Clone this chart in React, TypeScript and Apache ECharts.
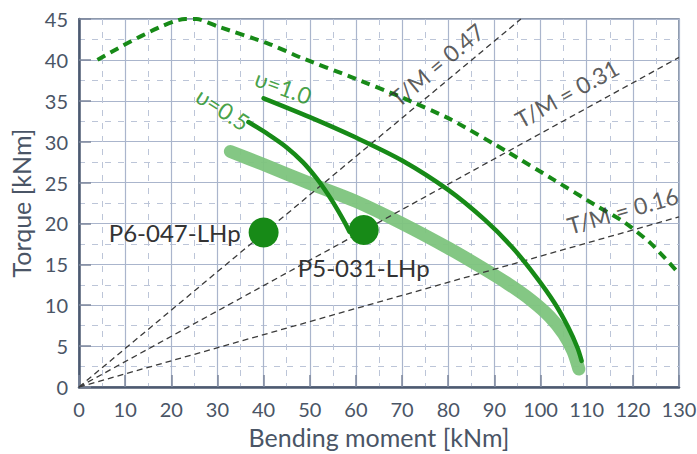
import React, { useEffect, useRef } from "react";
import * as echarts from "echarts";

// Axis ticks
const xTicks = [0, 10, 20, 30, 40, 50, 60, 70, 80, 90, 100, 110, 120, 130];
const yTicks = [0, 5, 10, 15, 20, 25, 30, 35, 40, 45];

// Limit envelope (dotted)
const envelope: number[][] = [
  [4, 40], [23, 45], [25.5, 45], [30, 44.1], [41, 42], [48, 40.3],
  [59, 37.9], [70, 35.4], [80.6, 32.7], [93, 28.7], [103, 25.3],
  [111.7, 22.3], [118.3, 20.1], [124, 17.5], [129.5, 14.2],
];

// υ = 1.0 curve
const upsilon10: number[][] = [
  [40, 35.3], [50, 33], [60, 30.5], [70, 27.7], [80, 24.1], [88, 20.4],
  [94, 17], [99, 13.5], [103, 10.3], [106, 7.3], [108, 4.8], [108.9, 3.2],
];

// υ = 0.5 curve
const upsilon05: number[][] = [
  [36.7, 32.4], [41, 30.9], [45, 29.3], [48.5, 27.5], [51.5, 25.5],
  [54, 23.5], [56, 21.7], [57.6, 20.1], [58.6, 19],
];

// Measured band
const band: number[][] = [
  [32.8, 28.8], [40, 27.2], [50, 24.9], [60, 22.7], [70, 20], [80, 17],
  [87, 14.7], [93, 12.6], [98, 10.6], [102, 8.6], [105, 6.5], [107, 4.4],
  [108.3, 2.2],
];

// Torque / bending moment ratios
const ratios = [0.47, 0.31, 0.16];
const ratioLabelPos: number[][] = [[77.5, 39.4], [105.7, 35.9], [117.8, 21.6]];
const ratioLabelAngle = [40, 29, 16];

// Specimens
const specimenNames = ["P6-047-LHp", "P5-031-LHp"];
const specimenPoints: number[][] = [[40, 18.9], [61.7, 19.2]];

const X_MAX = 130;
const Y_MAX = 45;

const FONT = "Lato, 'Open Sans', sans-serif";
const DARK_GREEN = "#178a17";
const LIGHT_GREEN = "#7dc47d";
const AXIS_TEXT = "#4a5566";

export default function App() {
  const ref = useRef<HTMLDivElement>(null);

  useEffect(() => {
    if (!ref.current) return;
    const chart = echarts.init(ref.current, null, { renderer: "svg" });

    const ratioLines = ratios.map((r) => {
      const end = r * X_MAX > Y_MAX ? [Y_MAX / r, Y_MAX] : [X_MAX, r * X_MAX];
      return {
        type: "line",
        data: [[0, 0], end],
        symbol: "none",
        silent: true,
        z: 3,
        lineStyle: { color: "#3a3a3a", width: 1.3, type: [6, 4] },
      };
    });

    const ratioLabels = ratios.map((r, i) => ({
      type: "scatter",
      data: [ratioLabelPos[i]],
      symbolSize: 0,
      silent: true,
      z: 6,
      label: {
        show: true,
        position: "inside",
        formatter: `T/M = ${r.toFixed(2)}`,
        rotate: ratioLabelAngle[i],
        fontFamily: FONT,
        fontSize: 23,
        color: "#333333",
      },
    }));

    const curveLabel = (pos: number[], text: string, angle: number) => ({
      type: "scatter",
      data: [pos],
      symbolSize: 0,
      silent: true,
      z: 6,
      label: {
        show: true,
        position: "inside",
        formatter: text,
        rotate: angle,
        fontFamily: FONT,
        fontSize: 23,
        color: DARK_GREEN,
      },
    });

    const axisCommon = {
      type: "value",
      nameLocation: "middle",
      nameTextStyle: { fontFamily: FONT, fontSize: 25, color: AXIS_TEXT },
      axisLine: { show: true, lineStyle: { color: "#4d5a70", width: 2.5 } },
      axisTick: { show: true, inside: true, length: 12, lineStyle: { color: "#7c879c", width: 1.5 } },
      splitLine: { show: true, lineStyle: { color: "#aab5cc", width: 1.2 } },
      minorTick: { show: false, splitNumber: 2 },
      minorSplitLine: { show: true, lineStyle: { color: "#bcc5d8", width: 1, type: [6, 7] } },
    };

    chart.setOption({
      animation: false,
      grid: {
        left: 79,
        right: 18,
        top: 19,
        bottom: 67,
        containLabel: false,
        outerBoundsMode: "none",
        show: true,
        borderColor: "#6a7890",
        borderWidth: 1.5,
        backgroundColor: "transparent",
      },
      xAxis: {
        ...axisCommon,
        min: xTicks[0],
        max: xTicks[xTicks.length - 1],
        interval: 10,
        name: "Bending moment [kNm]",
        nameGap: 37,
        axisLabel: { fontFamily: FONT, fontSize: 20, color: AXIS_TEXT, margin: 12 },
      },
      yAxis: {
        ...axisCommon,
        min: yTicks[0],
        max: yTicks[yTicks.length - 1],
        interval: 5,
        name: "Torque [kNm]",
        nameGap: 44,
        axisLabel: { fontFamily: FONT, fontSize: 20, color: AXIS_TEXT, margin: 11 },
      },
      series: [
        {
          type: "line",
          data: band,
          symbol: "none",
          smooth: 0.3,
          silent: true,
          z: 2,
          lineStyle: { color: LIGHT_GREEN, width: 13, cap: "round", opacity: 0.95 },
        },
        ...ratioLines,
        {
          type: "line",
          data: envelope,
          symbol: "none",
          smooth: 0.2,
          silent: true,
          z: 4,
          lineStyle: { color: DARK_GREEN, width: 4, type: [9, 6] },
        },
        {
          type: "line",
          data: upsilon10,
          symbol: "none",
          smooth: 0.3,
          silent: true,
          z: 5,
          lineStyle: { color: DARK_GREEN, width: 4.5, cap: "round" },
        },
        {
          type: "line",
          data: upsilon05,
          symbol: "none",
          smooth: 0.3,
          silent: true,
          z: 5,
          lineStyle: { color: DARK_GREEN, width: 4.5, cap: "round" },
        },
        {
          type: "scatter",
          data: specimenPoints.map((p, i) => ({
            value: p,
            label: {
              show: true,
              formatter: specimenNames[i],
              position: i === 0 ? "left" : "bottom",
              distance: i === 0 ? 8 : 11,
              fontFamily: FONT,
              fontSize: 24,
              color: "#333333",
            },
          })),
          symbolSize: 30,
          silent: true,
          z: 6,
          itemStyle: { color: DARK_GREEN, opacity: 1 },
        },
        ...ratioLabels,
        curveLabel([44.3, 36.7], "υ=1.0", -20),
        curveLabel([31.2, 34], "υ=0.5", -33),
      ],
    });

    return () => chart.dispose();
  }, []);

  return (
    <div
      ref={ref}
      style={{ position: "fixed", left: 0, top: 0, width: 697, height: 454, background: "#ffffff" }}
    />
  );
}
